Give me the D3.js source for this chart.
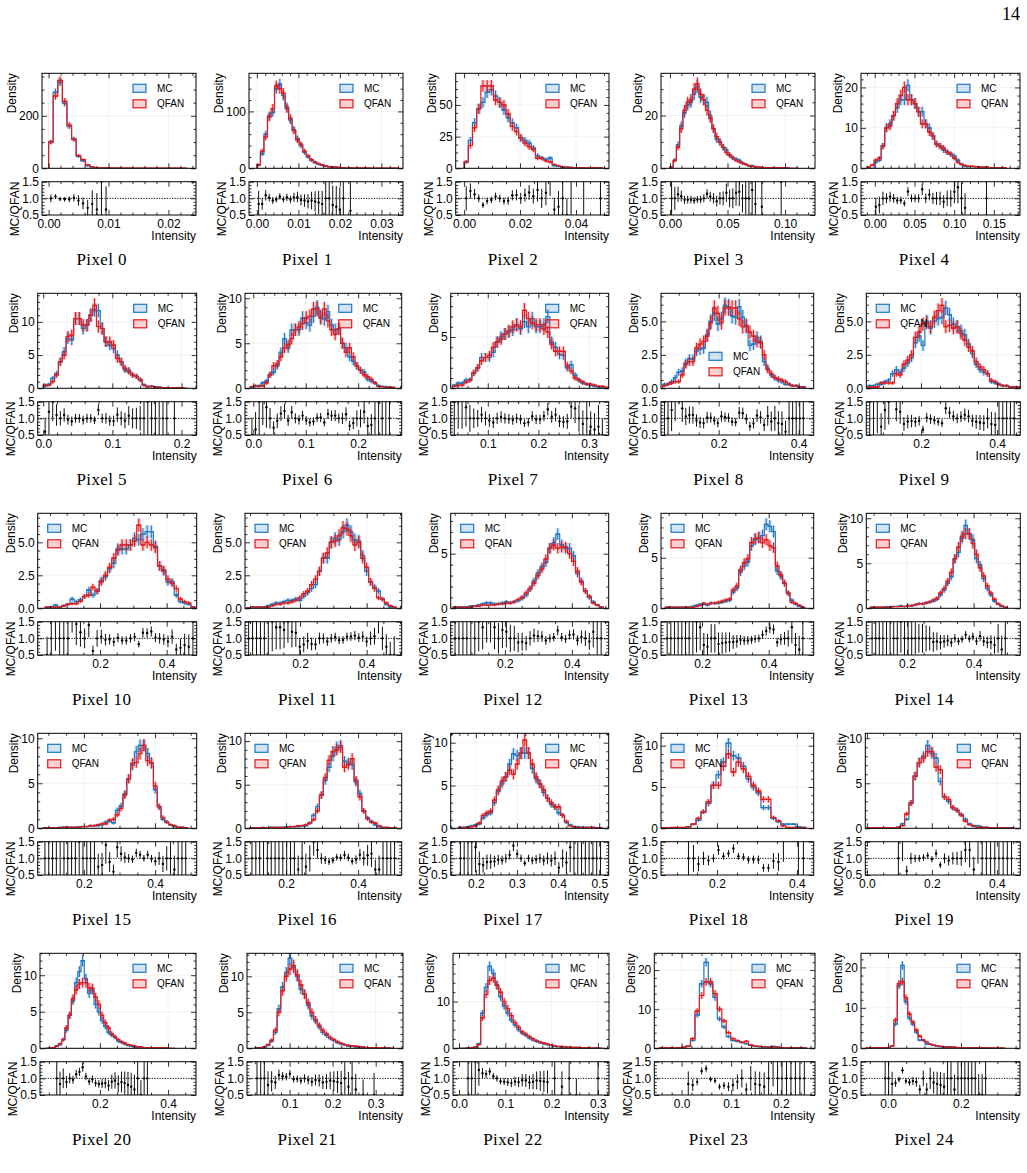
<!DOCTYPE html>
<html>
<head>
<meta charset="utf-8">
<script src="https://cdn.jsdelivr.net/npm/d3@7"></script>
<style>
  body { margin: 0; background: #fff; }
  svg { display: block; }
</style>
</head>
<body>
<div id="chart"></div>
<script>
const W = 1027
const H = 1173
const mcColor = '#1f77c4'
const qfColor = '#e41a1c'
const NTOT = 2000

// histogram binning (first edge, bin width) per pixel
const binLo = [0, 0, 0, 0, -0.01, 0, -0.006, 0.03, 0.06, 0.06, 0.035, 0.04, 0.045, 0.09, 0.09, 0.085, 0.1, 0.158, 0.06, 0, 0.04, 0.02, 0, -0.045, -0.06]
const binW = [0.000767, 0.00085, 0.0015, 0.0028, 0.0045, 0.0055, 0.0069, 0.0077, 0.0089, 0.01, 0.0125, 0.0118, 0.0118, 0.011, 0.0108, 0.0107, 0.0107, 0.0092, 0.0125, 0.0129, 0.0095, 0.0085, 0.0078, 0.009, 0.0095]

// densities
const mc0 = [100, 290, 328, 248, 160, 112, 45, 28, 10, 5, 2, 3, 1, 0, 0, 0, 0, 0, 0, 0, 0, 0, 0, 0, 0, 0, 0, 0, 0, 0]
const qf0 = [100, 275, 335, 255, 165, 110, 48, 33, 14, 6, 3, 2, 1.5, 1, 1, 0.5, 0.5, 0.5, 0.3, 0.3, 0.3, 0.3, 0.3, 0.3, 0.3, 0.3, 0.3, 0.3, 0.3, 0.3]
const mc1 = [5, 25, 60, 92, 98, 140, 148, 128, 108, 85, 68, 52, 40, 28, 20, 14, 10, 7, 5, 4, 3, 2, 1.5, 1, 1, 0, 0.5, 0, 0, 0, 0, 0, 0, 0, 0, 0, 0, 0, 0, 0]
const qf1 = [6, 30, 55, 90, 105, 145, 140, 132, 105, 88, 66, 50, 42, 30, 22, 15, 11, 8, 6, 4, 3, 2.5, 2, 1.5, 1, 1, 0.8, 0.5, 0.5, 0.3, 0.3, 0.3, 0.2, 0.2, 0.2, 0.2, 0.2, 0.2, 0.2, 0.2]
const mc2 = [5, 22, 36, 47, 52, 60, 62, 57, 52, 46, 40, 36, 32, 24, 22, 20, 16, 10, 8, 7, 8, 2, 1.5, 1, 0.5, 0.8, 0, 0, 0.5, 0, 0, 0, 0.3]
const qf2 = [5, 18, 32, 47, 65, 65, 65, 54, 52, 50, 43, 33, 29, 24, 20, 17, 15, 8, 8, 6, 5, 3, 2, 1, 1, 0.5, 0.5, 0.5, 0.3, 0.3, 0.3, 0.3, 0.3]
const mc3 = [0.5, 3, 9, 16, 21, 24, 25, 28, 31, 27, 26, 25, 20, 15, 11, 10, 8, 7, 5, 4, 3.5, 3, 2, 1.5, 1, 1, 0.5, 0, 0.3, 0, 0, 0, 0, 0, 0.3, 0, 0, 0, 0, 0]
const qf3 = [0.5, 3, 8, 15, 22, 25, 26, 30, 32, 28, 26, 22, 19, 15, 12, 10, 8, 6, 5, 4, 3, 2.5, 2, 1.5, 1, 0.8, 0.6, 0.5, 0.4, 0.3, 0.3, 0.3, 0.2, 0.2, 0.2, 0.2, 0.2, 0, 0, 0]
const mc4 = [0, 0, 1.5, 2, 5.5, 10, 11, 13, 15, 17, 17, 20.5, 17, 16, 14, 14, 11, 10, 8, 6, 5.5, 4.5, 4, 3.5, 3, 2, 1, 0.5, 0, 0, 0, 0, 0, 0.3, 0, 0, 0, 0, 0]
const qf4 = [0.3, 0.8, 2, 2.5, 5.5, 10, 10.5, 13, 16, 18, 20, 17, 17, 16, 14, 11, 11, 9, 8, 6, 5.5, 5, 4, 3.5, 2.5, 1.5, 1, 0.7, 0.5, 0.5, 0.4, 0.3, 0.3, 0.3, 0.2, 0.2, 0.2, 0.2, 0.1]
const mc5 = [0.3, 0.6, 1.5, 2.2, 4, 5.5, 7.5, 7.3, 10.5, 10.5, 9, 9.5, 11, 11.8, 11.7, 9, 7, 6.5, 6, 5, 4, 2.8, 2.7, 2, 1.8, 1.3, 0.5, 0.3, 0.3, 0.2, 0.2, 0.1, 0.1, 0, 0.1, 0, 0, 0]
const qf5 = [0.5, 0.5, 1, 2, 4, 5, 7.8, 8, 10.5, 10.5, 9.5, 9.5, 11, 12.5, 9.3, 9, 7, 7, 6.5, 4.5, 4, 3, 2.5, 2, 1.8, 1.3, 0.5, 0.2, 0.3, 0.2, 0.1, 0.1, 0.1, 0.1, 0.1, 0.1, 0.1, 0]
const mc6 = [0.1, 0.2, 0.3, 0.6, 0.8, 1.5, 1.8, 2.5, 4, 5.5, 4.5, 6.5, 6.5, 6.5, 7.8, 7.3, 7, 8, 9, 8, 7.7, 8.5, 7, 6.5, 6.6, 5, 4.5, 3.5, 3, 2.5, 2, 1.8, 1, 0.8, 0.6, 0.3, 0.2, 0.2, 0.1, 0]
const qf6 = [0.2, 0.3, 0.2, 0.3, 0.6, 1.5, 2.5, 2.7, 3.5, 4.5, 4.8, 5.5, 6.5, 6.8, 7.2, 7.8, 8, 8.8, 8.8, 7.8, 8.8, 7.5, 6.5, 6, 6.6, 5, 4, 4.5, 3.5, 2.5, 2, 1.5, 1.3, 1, 0.6, 0.2, 0.2, 0.1, 0.1, 0.1]
const mc7 = [0.3, 0.5, 0.5, 0.8, 0.8, 1.5, 2, 3, 3, 3, 3.5, 4.5, 5, 5.3, 5.5, 5.7, 6.2, 5.8, 6.5, 6, 6.8, 6, 6, 6.2, 7, 4.5, 4, 3.3, 3.2, 2, 2.3, 1.3, 0.8, 0.5, 0.4, 0.3, 0.2, 0.15, 0.1, 0]
const qf7 = [0.2, 0.3, 0.3, 0.6, 0.8, 1.5, 2, 2.7, 3, 3.2, 4, 4.5, 4.8, 5.3, 5.6, 6, 6.2, 6, 7.6, 6.8, 6.4, 6.2, 6.2, 5.8, 5.5, 4.3, 3.6, 3.6, 3.6, 2.2, 1.7, 1, 0.8, 0.6, 0.4, 0.4, 0.3, 0.2, 0.2, 0.1]
const mc8 = [0.3, 0.3, 0.5, 0.8, 1.2, 1.3, 1.9, 2.2, 2.2, 2.8, 2.9, 3, 4, 5, 5.6, 4.8, 5.2, 6.2, 6.1, 5.4, 5.3, 6.1, 5.3, 4.6, 3.2, 3.3, 3.8, 3.5, 2, 1.5, 1, 0.8, 0.6, 0.5, 0.3, 0.3, 0.2, 0.2, 0.1, 0.1]
const qf8 = [0.2, 0.3, 0.4, 0.5, 0.5, 1, 1.8, 2, 2, 3, 3.3, 3.5, 3.9, 4.9, 6, 5.6, 4.9, 6, 6, 6, 6, 5.2, 4.6, 4.7, 4.2, 3.9, 3.5, 3.4, 2.5, 1.4, 1.1, 0.8, 0.7, 0.6, 0.5, 0.3, 0.2, 0.2, 0.1, 0.1]
const mc9 = [0.2, 0.2, 0.3, 0.3, 0.5, 0.6, 1.1, 1.4, 1.2, 1.5, 1.9, 2.3, 3.4, 3.9, 3.2, 5, 4.5, 5, 5.2, 5.3, 6, 5.5, 4.8, 4.6, 4.3, 4, 3.3, 2.6, 1.8, 1.4, 1.2, 1.1, 0.5, 0.4, 0.3, 0.2, 0.2, 0.1, 0.1, 0]
const qf9 = [0.1, 0.1, 0.1, 0.4, 0.4, 0.4, 0.4, 1.1, 1, 1.8, 2.1, 2.5, 3.8, 4.2, 4.8, 4.9, 4.6, 5.3, 5.8, 6.2, 4.6, 4.7, 4.5, 4.6, 4.1, 3.6, 3.1, 2.8, 2, 1.6, 1.4, 1.1, 0.6, 0.5, 0.3, 0.2, 0.2, 0.1, 0.1, 0.1]
const mc10 = [0.05, 0.1, 0.25, 0.1, 0.2, 0.3, 0.7, 0.5, 0.65, 0.9, 1.4, 1, 1.3, 2.1, 2.4, 3, 3.4, 4.5, 4.5, 4.5, 4.8, 5.3, 5.2, 5.6, 5.8, 5.8, 4.7, 3.2, 2.8, 2, 2, 1, 0.5, 0.4, 0.3, 0.1]
const qf10 = [0.1, 0.1, 0.1, 0.1, 0.2, 0.3, 0.35, 0.35, 0.55, 0.9, 1, 1.6, 1.3, 2, 2.5, 3.1, 3.8, 4.4, 4.8, 4.8, 4.8, 5.1, 6.3, 4.8, 5, 4.8, 4.6, 3.2, 2.9, 2.2, 1.9, 1.5, 0.7, 0.5, 0.4, 0.1]
const mc11 = [0.05, 0.1, 0.1, 0.1, 0.1, 0.2, 0.3, 0.4, 0.4, 0.5, 0.6, 0.6, 0.7, 0.6, 0.9, 1.2, 1.5, 1.8, 2.8, 3.8, 3.8, 5, 5.3, 5.2, 5.8, 6.3, 5.8, 5.2, 5.1, 4, 2.8, 2, 1.6, 1.3, 0.7, 0.3, 0.1, 0.05]
const qf11 = [0.05, 0.1, 0.1, 0.1, 0.1, 0.1, 0.2, 0.3, 0.3, 0.4, 0.4, 0.5, 0.6, 0.8, 1.1, 1.3, 1.8, 2.2, 2.8, 3.8, 4.2, 5, 5.1, 5.5, 6.1, 6, 5.5, 4.8, 5, 3.8, 3.1, 2, 1.5, 0.8, 0.7, 0.4, 0.2, 0.1]
const mc12 = [0.1, 0.1, 0.1, 0.1, 0.2, 0.2, 0.3, 0.4, 0.5, 0.5, 0.4, 0.4, 0.5, 0.6, 0.5, 0.6, 0.7, 0.9, 1.2, 1.8, 2.5, 3.2, 3.8, 4.2, 5.5, 6, 6.8, 5.8, 5.5, 5.5, 4.8, 3.2, 2.5, 1.6, 1, 0.6, 0.3, 0.1]
const qf12 = [0.1, 0.1, 0.1, 0.1, 0.1, 0.2, 0.2, 0.3, 0.3, 0.3, 0.3, 0.4, 0.4, 0.5, 0.5, 0.6, 0.8, 1, 1.4, 1.8, 2.3, 3, 3.6, 4.5, 5.5, 5.8, 5.5, 5.6, 5.6, 5, 4.3, 3.4, 2.4, 1.6, 1.1, 0.5, 0.3, 0.1]
const mc13 = [0.1, 0.1, 0.1, 0.1, 0.1, 0.1, 0.1, 0.2, 0.3, 0.4, 0.4, 0.3, 0.5, 0.5, 0.5, 0.6, 0.7, 0.8, 1.6, 2, 3.6, 4.2, 4.6, 6.2, 6.8, 7, 7.2, 8.3, 8.1, 7.6, 3.7, 3.2, 2.5, 1.5, 0.8, 0.4, 0.2, 0.1]
const qf13 = [0.1, 0.1, 0.1, 0.1, 0.1, 0.1, 0.1, 0.1, 0.2, 0.3, 0.5, 0.4, 0.5, 0.5, 0.6, 0.7, 0.8, 0.9, 1.8, 2.2, 3.8, 4.5, 4.9, 6.5, 6.9, 7, 6.5, 6.8, 6.2, 6, 4.2, 3.3, 2.5, 1.5, 0.6, 0.5, 0.3, 0.1]
const mc14 = [0.1, 0.1, 0.1, 0.1, 0.2, 0.2, 0.2, 0.2, 0.3, 0.2, 0.3, 0.3, 0.4, 0.5, 0.5, 0.6, 0.7, 0.8, 1, 1.5, 2, 2.8, 3.5, 5.5, 6.2, 7.8, 9.2, 8.2, 7.6, 5.5, 4.8, 3.3, 2.2, 1.5, 0.8, 0.5, 0.2, 0.1]
const qf14 = [0.1, 0.1, 0.1, 0.1, 0.1, 0.1, 0.2, 0.2, 0.2, 0.2, 0.3, 0.3, 0.4, 0.5, 0.5, 0.6, 0.7, 0.9, 1.1, 1.7, 2.2, 3, 4, 5.5, 6.8, 8, 8.3, 8.3, 7.2, 6, 4.5, 3.6, 2.5, 1.7, 1, 0.5, 0.3, 0.1]
const mc15 = [0.05, 0.05, 0.05, 0.05, 0.1, 0.1, 0.1, 0.1, 0.1, 0.15, 0.2, 0.2, 0.3, 0.3, 0.3, 0.4, 0.7, 0.8, 0.6, 2, 2.5, 3.8, 5.5, 7, 8.5, 9.2, 9.2, 8.3, 7.2, 4.3, 2.4, 1, 0.7, 0.4, 0.2, 0.1, 0.1, 0.05]
const qf15 = [0.05, 0.05, 0.05, 0.05, 0.05, 0.1, 0.1, 0.1, 0.1, 0.1, 0.2, 0.2, 0.3, 0.3, 0.4, 0.5, 0.5, 0.9, 1, 1.5, 2.2, 3.7, 5.5, 7.2, 7.3, 8.3, 9.2, 7.5, 7.3, 4.7, 2.4, 1.2, 0.7, 0.4, 0.3, 0.1, 0.1, 0.05]
const mc16 = [0.05, 0.05, 0.05, 0.1, 0.05, 0.1, 0.1, 0.1, 0.1, 0.2, 0.2, 0.2, 0.2, 0.3, 0.3, 0.6, 1.5, 2.5, 3.8, 5.5, 7, 8.3, 9.3, 9.5, 7.7, 7.5, 7.3, 5.3, 4, 2, 1.2, 0.8, 0.4, 0.2, 0.1, 0.1, 0.05, 0.05]
const qf16 = [0.05, 0.05, 0.05, 0.05, 0.05, 0.1, 0.1, 0.1, 0.1, 0.1, 0.2, 0.2, 0.3, 0.3, 0.4, 0.6, 1, 2, 3.8, 5.8, 7.8, 8.8, 9, 9.3, 7, 7.3, 8, 5.5, 3.6, 2, 1.1, 0.7, 0.6, 0.3, 0.1, 0.1, 0.05, 0.05]
const mc17 = [0.1, 0.1, 0.2, 0.3, 0.4, 0.5, 1.2, 1.6, 1.8, 3, 4.3, 5.2, 6, 7.5, 8.7, 8.5, 8.8, 8.8, 8.8, 7, 5.8, 5.2, 4.2, 3.5, 2.8, 2.5, 1.8, 1.5, 0.7, 0.4, 0.2, 0.2, 0.1, 0.1, 0.1, 0.1, 0.05, 0.05]
const qf17 = [0.1, 0.1, 0.1, 0.2, 0.3, 0.6, 1.5, 1.8, 2, 3.3, 4.5, 5.5, 6, 6.8, 6.3, 7.5, 8.8, 10.3, 8.8, 7.5, 6, 5.2, 4.5, 3.5, 3, 2.5, 2.5, 1.5, 0.8, 0.3, 0.2, 0.1, 0.1, 0.1, 0.1, 0.1, 0.05, 0.05]
const mc18 = [0, 0, 0, 0, 0, 0.2, 0.5, 1, 2, 3, 5.2, 6.5, 8, 10.3, 8.8, 8.5, 7.5, 6, 5, 4.3, 2.5, 2.5, 1.2, 0.8, 0.5, 0.5, 0.5, 0.2, 0.1]
const qf18 = [0.05, 0.05, 0.1, 0.1, 0.1, 0.2, 0.5, 1.2, 2, 3.2, 5.2, 5.2, 7.5, 9, 6.8, 8, 7.2, 6.3, 5.2, 4.5, 3.5, 3.5, 1.3, 0.9, 0.3, 0.1, 0.1, 0.1, 0.1]
const mc19 = [0, 0, 0, 0, 0, 0, 0, 0.1, 0.5, 1, 2.8, 5.8, 7.3, 8, 9.2, 8.3, 7.8, 5.2, 3.5, 3, 2.3, 2, 1.5, 1, 0.5, 0.2, 0.3, 0.1, 0.1, 0.05, 0.05, 0.05, 0.05, 0.05, 0.05]
const qf19 = [0.05, 0.05, 0.05, 0.05, 0.05, 0.05, 0.05, 0.1, 0.3, 1.6, 2.8, 5.8, 7.3, 7.8, 8.5, 8.5, 6.8, 6.5, 3.5, 3.2, 2.3, 2, 1.5, 0.8, 0.4, 0.3, 0.1, 0.1, 0.1, 0.05, 0.05, 0.05, 0.05, 0.05, 0.05]
const mc20 = [0, 0, 0, 0.3, 0.5, 1.2, 2.5, 4.5, 6.5, 9, 10.5, 12, 9.5, 7.5, 8, 6, 5, 3.8, 3, 2.2, 1.8, 1.5, 1, 0.8, 0.6, 0.4, 0.3, 0.2, 0.2, 0.1, 0.1, 0.1, 0, 0, 0, 0, 0, 0, 0, 0]
const qf20 = [0, 0.05, 0.1, 0.3, 0.6, 1.2, 2.8, 4.5, 6.8, 8, 8.8, 9, 9, 8.3, 8.2, 7, 6, 4.5, 3.5, 2.8, 2, 1.6, 1.2, 0.9, 0.7, 0.5, 0.4, 0.3, 0.2, 0.2, 0.1, 0.1, 0.1, 0.05, 0.05, 0.05, 0.05, 0.05, 0, 0]
const mc21 = [0.05, 0.1, 0.2, 0.4, 1, 2.2, 5.5, 8.5, 10.5, 12.5, 11.2, 10, 8.2, 7.5, 6, 4.5, 3.8, 3, 2.2, 1.8, 1.4, 1.1, 0.8, 0.6, 0.5, 0.3, 0.3, 0.2, 0, 0.1, 0, 0, 0.05, 0, 0, 0, 0, 0]
const qf21 = [0.05, 0.1, 0.2, 0.5, 1.1, 2.5, 5, 8, 10, 11, 11.5, 10.2, 8.8, 7.5, 6.3, 5, 4, 3.2, 2.5, 2, 1.5, 1.2, 0.9, 0.7, 0.5, 0.4, 0.3, 0.3, 0.2, 0.2, 0.1, 0.1, 0.1, 0.05, 0.05, 0.05, 0.05, 0]
const mc22 = [0, 0, 0.05, 0.1, 0.3, 1, 7.5, 13, 17.5, 16, 13.5, 11, 9, 7.5, 6, 5, 4, 3.3, 2.8, 2.2, 1.8, 1.5, 1.2, 1, 0.8, 0, 0.5, 0, 0.3, 0, 0.2, 0, 0.1, 0, 0, 0, 0, 0, 0.05, 0]
const qf22 = [0, 0, 0.05, 0.1, 0.2, 0.8, 6.5, 11.5, 14.5, 15, 13.5, 12, 10, 8.5, 7, 5.5, 4.5, 3.5, 3, 2.5, 2, 1.6, 1.3, 1.1, 0.9, 0.7, 0.5, 0.4, 0.4, 0.3, 0.2, 0.2, 0.2, 0.1, 0.1, 0.1, 0.05, 0.05, 0.05, 0]
const mc23 = [0, 0, 0, 0, 0, 0, 0.5, 2, 8.5, 16.5, 22, 16.5, 13, 7.5, 5.5, 3, 2, 1.8, 1.5, 1.2, 0.8, 0.5, 0.4, 0.3, 0.3, 0.5, 0.3, 0.2, 0.2, 0.1, 0.1, 0.1, 0.05]
const qf23 = [0.1, 0.1, 0.1, 0.1, 0.2, 0.3, 0.6, 2.5, 9.5, 13.5, 17, 17, 14, 10, 7, 4, 2.5, 2, 1.5, 1.8, 0.8, 0.6, 0.5, 0.4, 0.3, 0.3, 0.3, 0.2, 0.2, 0.1, 0.1, 0.1, 0.05]
const mc24 = [0, 0, 0, 0, 0, 0.1, 0.2, 0.5, 6, 15.5, 20.5, 11.5, 7.5, 6, 4, 2, 2, 1, 1, 0.7, 0.5, 0.4, 0.3, 0.3, 0.3, 0.2, 0.2, 0.2, 0.1, 0.1, 0.1, 0.1, 0.05, 0.05, 0.05, 0, 0, 0, 0, 0]
const qf24 = [0.1, 0.1, 0.1, 0.1, 0.1, 0.1, 0.2, 0.6, 7, 16, 16.5, 12.5, 8.5, 6.5, 4.5, 3, 2, 1.5, 1, 0.8, 0.6, 0.5, 0.4, 0.3, 0.3, 0.3, 0.2, 0.2, 0.1, 0.1, 0.1, 0.1, 0.1, 0.1, 0.05, 0.05, 0.05, 0.05, 0.05, 0.05]

const mcAll = [mc0, mc1, mc2, mc3, mc4, mc5, mc6, mc7, mc8, mc9, mc10, mc11, mc12, mc13, mc14, mc15, mc16, mc17, mc18, mc19, mc20, mc21, mc22, mc23, mc24]
const qfAll = [qf0, qf1, qf2, qf3, qf4, qf5, qf6, qf7, qf8, qf9, qf10, qf11, qf12, qf13, qf14, qf15, qf16, qf17, qf18, qf19, qf20, qf21, qf22, qf23, qf24]

// axis ranges and ticks
const xDomain = [[-0.0011, 0.0246], [-0.0019, 0.0352], [-0.003, 0.0518], [-0.0078, 0.126], [-0.0174, 0.183],
  [-0.008, 0.222], [-0.0158, 0.283], [0.0267, 0.339], [0.0558, 0.4375], [0.056, 0.461],
  [0.013, 0.49], [0.035, 0.505], [0.038, 0.51], [0.077, 0.535], [0.078, 0.54],
  [0.07, 0.517], [0.086, 0.521], [0.139, 0.523], [0.06, 0.442], [-0.005, 0.472],
  [0.024, 0.482], [0.001, 0.3635], [-0.013, 0.324], [-0.055, 0.269], [-0.074, 0.362]]
const xTicks = [[0, 0.01, 0.02], [0, 0.01, 0.02, 0.03], [0, 0.02, 0.04], [0, 0.05, 0.1], [0, 0.05, 0.1, 0.15],
  [0, 0.1, 0.2], [0, 0.1, 0.2], [0.1, 0.2, 0.3], [0.2, 0.4], [0.2, 0.4],
  [0.2, 0.4], [0.2, 0.4], [0.2, 0.4], [0.2, 0.4], [0.2, 0.4],
  [0.2, 0.4], [0.2, 0.4], [0.2, 0.3, 0.4, 0.5], [0.2, 0.4], [0, 0.2, 0.4],
  [0.2, 0.4], [0.1, 0.2, 0.3], [0, 0.1, 0.2, 0.3], [0, 0.1, 0.2], [0, 0.2]]
const yMax = [362, 167, 75, 36, 23.5, 14.3, 10.55, 9.26, 7.1, 7.1, 7.2, 7.2, 8.7, 9.4, 10.55, 10.55, 10.9, 11.1, 11.5, 10.55, 13, 13.2, 20.3, 24.3, 23.5]
const yTicks = [[0, 200], [0, 100], [0, 25, 50], [0, 20], [0, 10, 20],
  [0, 5, 10], [0, 5, 10], [0, 5], [0, 2.5, 5], [0, 2.5, 5],
  [0, 2.5, 5], [0, 2.5, 5], [0, 5], [0, 5], [0, 5, 10],
  [0, 5, 10], [0, 5, 10], [0, 5, 10], [0, 5, 10], [0, 5, 10],
  [0, 5, 10], [0, 5, 10], [0, 10], [0, 10, 20], [0, 10, 20]]
const ratioTicks = [0.5, 1.0, 1.5]
const legendPos = ['r', 'r', 'r', 'r', 'r', 'r', 'r', 'r', 'c', 'l', 'l', 'l', 'l', 'l', 'l', 'l', 'l', 'r', 'l', 'r', 'r', 'r', 'r', 'r', 'r']

// page layout
const rowTop = 73.3, rowStep = 220, mainH = 95, ratioGap = 13.4, ratioH = 33.3
const boxLeft = [42, 249, 455.7, 661, 861, 37.7, 245, 450.7, 661, 866.3, 37.7, 245, 450.7, 661, 866.3, 37.7, 245, 450.7, 661, 865.3, 40, 247, 453, 654.3, 861]
const boxRight = [196, 403, 609, 815, 1020, 196.7, 401.7, 608.7, 813.7, 1020.3, 196.7, 401.7, 608.7, 813.7, 1020.3, 196.7, 401.7, 608.7, 813.7, 1020.3, 196, 403, 609, 815, 1020]

const sans = "'Liberation Sans', Arial, Helvetica, sans-serif"
const serif = "'Liberation Serif', 'Times New Roman', serif"

const svg = d3.select('#chart').append('svg')
  .attr('width', W).attr('height', H)
  .style('font-family', sans)
const defs = svg.append('defs')

svg.append('text')
  .attr('x', 1020).attr('y', 19.5)
  .attr('text-anchor', 'end')
  .style('font-family', serif).style('font-size', '18px')
  .text('14')

function minorTicks(domain, majors) {
  const step = majors[1] - majors[0]
  const ex = Math.pow(10, Math.floor(Math.log10(step) + 1e-9))
  const m = Math.round(step / ex * 1000) / 1000
  const nd = (m === 1 || m === 5 || m === 10) ? 5 : 4
  const ms = step / nd
  const out = []
  let k = Math.ceil((domain[0] - majors[0]) / ms - 1e-9)
  for (; majors[0] + k * ms <= domain[1] + 1e-12; k++) {
    if (Math.abs(k / nd - Math.round(k / nd)) > 1e-6) out.push(majors[0] + k * ms)
  }
  return out
}

function styleAxis(g) {
  g.select('.domain').remove()
  g.selectAll('.tick line').attr('stroke', '#000').attr('stroke-width', 0.8)
  g.attr('font-family', sans).attr('font-size', 12)
  g.selectAll('.tick text').attr('fill', '#000')
}

function frameAxes(g, x, y, xt, yt, showX, xf, yf) {
  const [x0, x1] = x.range()
  const [y1, y0] = y.range()
  const xm = minorTicks(x.domain(), xt)
  const ym = minorTicks(y.domain(), yt)
  g.append('g').attr('transform', `translate(0,${y1})`)
    .call(d3.axisBottom(x).tickValues(xm).tickSize(-2.5).tickFormat('')).call(styleAxis)
  g.append('g').attr('transform', `translate(0,${y0})`)
    .call(d3.axisTop(x).tickValues(xm).tickSize(-2.5).tickFormat('')).call(styleAxis)
  g.append('g').attr('transform', `translate(${x0},0)`)
    .call(d3.axisLeft(y).tickValues(ym).tickSize(-2.5).tickFormat('')).call(styleAxis)
  g.append('g').attr('transform', `translate(${x1},0)`)
    .call(d3.axisRight(y).tickValues(ym).tickSize(-2.5).tickFormat('')).call(styleAxis)
  g.append('g').attr('transform', `translate(0,${y1})`)
    .call(d3.axisBottom(x).tickValues(xt).tickSize(-5).tickPadding(4).tickFormat(showX ? d3.format(xf) : '')).call(styleAxis)
  g.append('g').attr('transform', `translate(0,${y0})`)
    .call(d3.axisTop(x).tickValues(xt).tickSize(-5).tickFormat('')).call(styleAxis)
  const left = g.append('g').attr('transform', `translate(${x0},0)`)
    .call(d3.axisLeft(y).tickValues(yt).tickSize(-5).tickPadding(3).tickFormat(d3.format(yf))).call(styleAxis)
  g.append('g').attr('transform', `translate(${x1},0)`)
    .call(d3.axisRight(y).tickValues(yt).tickSize(-5).tickFormat('')).call(styleAxis)
  g.append('rect')
    .attr('x', x0).attr('y', y0).attr('width', x1 - x0).attr('height', y1 - y0)
    .attr('fill', 'none').attr('stroke', '#000').attr('stroke-width', 1)
  return left
}

function yLabel(g, axisG, top, label) {
  const bb = axisG.node().getBBox()
  const tr = axisG.attr('transform').match(/translate\(([-\d.]+)/)
  const xl = +tr[1] + bb.x - 3
  g.append('text')
    .attr('transform', `translate(${xl},${top}) rotate(-90)`)
    .attr('text-anchor', 'end')
    .style('font-size', '12px')
    .text(label)
}

function relErr(v, w) {
  return 1 / Math.sqrt(v * w * NTOT)
}

mcAll.forEach((mc, i) => {
  const qf = qfAll[i]
  const r = Math.floor(i / 5), c = i % 5
  const top = rowTop + r * rowStep
  const left = boxLeft[i], right = boxRight[i]
  const lo = binLo[i], w = binW[i]
  const rTop = top + mainH + ratioGap
  const xf = i < 5 ? '.2f' : '.1f'
  const yf = yTicks[i].includes(2.5) ? '.1f' : 'd'

  const x = d3.scaleLinear().domain(xDomain[i]).range([left, right])
  const y = d3.scaleLinear().domain([0, yMax[i]]).range([top + mainH, top])
  const yr = d3.scaleLinear().domain([0.5, 1.5]).range([rTop + ratioH, rTop])

  defs.append('clipPath').attr('id', 'm' + i).append('rect')
    .attr('x', left).attr('y', top).attr('width', right - left).attr('height', mainH)
  defs.append('clipPath').attr('id', 'q' + i).append('rect')
    .attr('x', left).attr('y', rTop).attr('width', right - left).attr('height', ratioH)

  const g = svg.append('g')

  // grid
  const grid = g.append('g').attr('stroke', '#ededed').attr('stroke-width', 0.7)
  grid.selectAll('.gx').data(xTicks[i]).join('line')
    .attr('x1', d => x(d)).attr('x2', d => x(d)).attr('y1', top).attr('y2', top + mainH)
  grid.selectAll('.gy').data(yTicks[i]).join('line')
    .attr('x1', left).attr('x2', right).attr('y1', d => y(d)).attr('y2', d => y(d))

  const bins = mc.map((v, k) => ({ x0: lo + k * w, x1: lo + (k + 1) * w, mc: v, qf: qf[k] }))
  const plot = g.append('g').attr('clip-path', `url(#m${i})`)

  const series = [['mc', mcColor], ['qf', qfColor]]
  series.forEach(([key, col]) => {
    const filled = bins.filter(b => b[key] > 0)
    plot.append('g').selectAll('rect').data(filled).join('rect')
      .attr('x', b => x(b.x0)).attr('width', b => x(b.x1) - x(b.x0))
      .attr('y', b => y(b[key] * (1 + relErr(b[key], w))))
      .attr('height', b => y(b[key] * (1 - relErr(b[key], w))) - y(b[key] * (1 + relErr(b[key], w))))
      .attr('fill', col).attr('opacity', 0.2)
  })
  series.forEach(([key, col]) => {
    const pts = [[bins[0].x0, 0]]
    bins.forEach(b => { pts.push([b.x0, b[key]]); pts.push([b.x1, b[key]]) })
    pts.push([bins[bins.length - 1].x1, 0])
    plot.append('path')
      .attr('d', d3.line().x(p => x(p[0])).y(p => y(p[1]))(pts))
      .attr('fill', 'none').attr('stroke', col).attr('stroke-width', 1.2)
  })
  series.forEach(([key, col]) => {
    const filled = bins.filter(b => b[key] > 0)
    const eb = plot.append('g').attr('stroke', col).attr('stroke-width', 1.1)
    eb.selectAll('.v').data(filled).join('line')
      .attr('x1', b => x((b.x0 + b.x1) / 2)).attr('x2', b => x((b.x0 + b.x1) / 2))
      .attr('y1', b => y(b[key] * (1 + relErr(b[key], w))))
      .attr('y2', b => y(b[key] * (1 - relErr(b[key], w))))
    eb.selectAll('.h').data(filled).join('line')
      .attr('x1', b => x((b.x0 + b.x1) / 2) - 2).attr('x2', b => x((b.x0 + b.x1) / 2) + 2)
      .attr('y1', b => y(b[key])).attr('y2', b => y(b[key]))
  })

  // ratio panel
  const rg = g.append('g').attr('clip-path', `url(#q${i})`)
  rg.append('line')
    .attr('x1', left).attr('x2', right).attr('y1', yr(1)).attr('y2', yr(1))
    .attr('stroke', '#000').attr('stroke-width', 1).attr('stroke-dasharray', '1.2,1.4')
  const ratios = bins.filter(b => b.mc > 0 && b.qf > 0).map(b => {
    const v = b.mc / b.qf
    const e = v * Math.sqrt(relErr(b.mc, w) ** 2 + relErr(b.qf, w) ** 2)
    return { xc: (b.x0 + b.x1) / 2, v, e }
  })
  rg.selectAll('.re').data(ratios).join('line')
    .attr('x1', d => x(d.xc)).attr('x2', d => x(d.xc))
    .attr('y1', d => yr(d.v + d.e)).attr('y2', d => yr(d.v - d.e))
    .attr('stroke', '#111').attr('stroke-width', 1)
  rg.selectAll('.rp').data(ratios).join('circle')
    .attr('cx', d => x(d.xc)).attr('cy', d => yr(d.v)).attr('r', 1.2)
    .attr('fill', '#000')

  const leftMain = frameAxes(g, x, y, xTicks[i], yTicks[i], false, xf, yf)
  const leftRatio = frameAxes(g, x, yr, xTicks[i], ratioTicks, true, xf, '.1f')
  yLabel(g, leftMain, top, 'Density')
  yLabel(g, leftRatio, rTop, 'MC/QFAN')

  g.append('text')
    .attr('x', right).attr('y', rTop + ratioH + 24.5)
    .attr('text-anchor', 'end').style('font-size', '12px')
    .text('Intensity')

  // legend
  const pos = legendPos[i]
  let px, ly
  if (pos === 'r') { px = right - 63; ly = top + 15 }
  else if (pos === 'l') { px = left + 10; ly = top + 15 }
  else { px = left + 48; ly = top + 63 }
  const lg = g.append('g')
  ;[['MC', mcColor], ['QFAN', qfColor]].forEach(([name, col], k) => {
    const yy = ly + k * 15.5
    lg.append('rect')
      .attr('x', px).attr('y', yy - 4).attr('width', 13).attr('height', 8)
      .attr('fill', col).attr('fill-opacity', 0.2)
      .attr('stroke', col).attr('stroke-width', 1.2)
    lg.append('text')
      .attr('x', px + 24).attr('y', yy + 3.6)
      .style('font-size', '10px')
      .text(name)
  })

  svg.append('text')
    .attr('x', 101.7 + 205.6 * c).attr('y', 264.5 + rowStep * r)
    .attr('text-anchor', 'middle')
    .style('font-family', serif).style('font-size', '17px')
    .style('letter-spacing', '0.4px')
    .text('Pixel ' + i)
})
</script>
</body>
</html>
